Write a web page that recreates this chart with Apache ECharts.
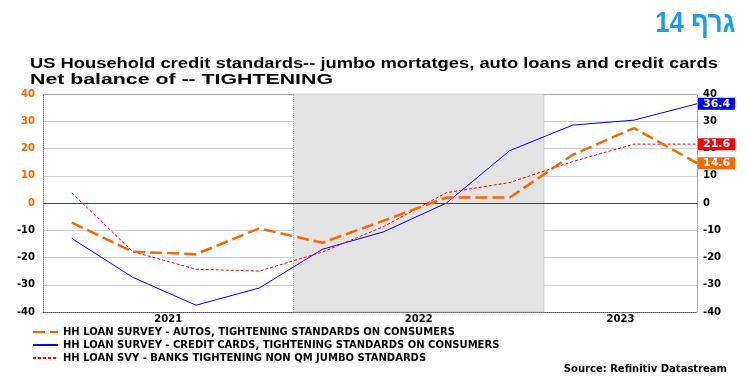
<!DOCTYPE html>
<html><head><meta charset="utf-8">
<script src="https://cdn.jsdelivr.net/npm/echarts@6/dist/echarts.min.js"></script>
<style>html,body{margin:0;padding:0;background:#fff}#c{width:748px;height:388px}</style>
</head><body><div id="c"></div>
<script>
var dates = ['2021-02-12','2021-05-12','2021-08-12','2021-11-12','2022-02-12','2022-05-12','2022-08-12','2022-11-12','2023-02-12','2023-05-12','2023-08-12'];
var autos = [-7.2,-17.9,-18.8,-9.3,-14.6,-6.5,2.0,2.0,17.7,27.5,14.6];
var cards = [-13.0,-27.3,-37.5,-31.2,-17.0,-10.6,0.0,19.2,28.6,30.4,36.4];
var jumbo = [3.7,-17.9,-24.3,-25.0,-18.0,-8.7,3.8,7.5,15.2,21.6,21.6];
var yTicks = [-40,-30,-20,-10,0,10,20,30,40];
var years = ['2021','2022','2023'];
var yearStarts = ['2021-01-01','2022-01-01','2023-01-01'];
var names = ['HH LOAN SURVEY - AUTOS, TIGHTENING STANDARDS ON CONSUMERS','HH LOAN SURVEY - CREDIT CARDS, TIGHTENING STANDARDS ON CONSUMERS','HH LOAN SVY - BANKS TIGHTENING NON QM JUMBO STANDARDS'];
var titleText = '\u202Bגרף 14\u202C';
var title1 = 'US Household credit standards-- jumbo mortatges, auto loans and credit cards';
var title2 = 'Net balance of -- TIGHTENING';
var sourceText = 'Source: Refinitiv Datastream';

function pairs(v){ return dates.map(function(d,i){ return [d, v[i]]; }); }
var WIDE = 'DejaVu Sans, sans-serif';
var ORANGE = '#ff6600';

var chart = echarts.init(document.getElementById('c'));
function endLbl(bg){
  return {show:true, formatter:function(p){return p.value[1].toFixed(1);}, backgroundColor:bg, color:'#fff',
    fontFamily:WIDE, fontWeight:'bold', fontSize:11, padding:[0,5,0,5], distance:1, lineHeight:12};
}
function yearLbl(t){
  return {show:true, position:'bottom', distance:2, formatter:t, color:'#000', fontSize:10, fontWeight:'bold', fontFamily:WIDE};
}
var yMin = yTicks[0], yMax = yTicks[yTicks.length-1];
var option = {
  animation:false,
  graphic:[
    {type:'text', right:13, top:9, scaleX:0.86, style:{text:titleText, fill:'#1a9cf0', font:'bold 30px "Liberation Sans", Arial, sans-serif'}},
    {type:'text', left:30, top:57, scaleX:1.31, style:{text:title1, fill:'#000', font:'bold 14px "Liberation Sans", Arial, sans-serif'}},
    {type:'text', left:30, top:72, scaleX:1.42, style:{text:title2, fill:'#000', font:'bold 15px "Liberation Sans", Arial, sans-serif'}}
  ],
  title:[
    {text:sourceText, right:16, top:359, textStyle:{color:'#000', fontSize:10, fontWeight:'bold', fontFamily:WIDE}}
  ],
  legend:{orient:'vertical', left:32, top:327, padding:0, itemWidth:25, itemHeight:10, itemGap:3,
    itemStyle:{opacity:0},
    textStyle:{color:'#000', fontSize:10, fontWeight:'bold', fontFamily:WIDE}, data:names},
  grid:{left:43, right:51, top:94, bottom:76, containLabel:false},
  xAxis:[
    {type:'time', min:yearStarts[0], max:dates[dates.length-1], position:'bottom',
     axisLine:{onZero:false, lineStyle:{color:'#555', type:'dotted'}}, axisTick:{show:false}, axisLabel:{show:false}, splitLine:{show:false}},
    {type:'time', min:yearStarts[0], max:dates[dates.length-1], position:'top',
     axisLine:{onZero:false, lineStyle:{color:'#999', type:'dotted'}}, axisTick:{show:false}, axisLabel:{show:false}, splitLine:{show:false}}
  ],
  yAxis:[
    {type:'value', min:yMin, max:yMax, interval:10, position:'left',
     axisLine:{show:true, lineStyle:{color:'#777', type:'dotted'}}, axisTick:{show:false},
     axisLabel:{margin:8, fontSize:10, fontWeight:'bold', fontFamily:WIDE, color:function(v){return Number(v)>=0?ORANGE:'#000';}},
     splitLine:{lineStyle:{color:'#d0d0d0', width:1}}},
    {type:'value', min:yMin, max:yMax, interval:10, position:'right',
     axisLine:{show:true, lineStyle:{color:'#999', type:'dotted'}}, axisTick:{show:false},
     axisLabel:{margin:6, fontSize:10, fontWeight:'bold', fontFamily:WIDE, color:'#000'},
     splitLine:{show:false}}
  ],
  series:[
    {name:names[0], type:'line', data:pairs(autos), symbol:'none', z:5,
     lineStyle:{color:ORANGE, width:2.5, type:[12,5]}, itemStyle:{color:ORANGE},
     endLabel:endLbl(ORANGE),
     markArea:{silent:true, data:[
       [{xAxis:yearStarts[0], itemStyle:{color:'rgba(0,0,0,0)'}, label:yearLbl(years[0])},{xAxis:yearStarts[1]}],
       [{xAxis:yearStarts[1], itemStyle:{color:'#e3e3e3', borderColor:'#aaa', borderWidth:1, borderType:'dotted'}, label:yearLbl(years[1])},{xAxis:yearStarts[2]}],
       [{xAxis:yearStarts[2], itemStyle:{color:'rgba(0,0,0,0)'}, label:yearLbl(years[2])},{xAxis:dates[dates.length-1]}]
     ]},
     markLine:{silent:true, symbol:'none', label:{show:false}, lineStyle:{color:'#444', width:1, type:'solid'}, data:[{yAxis:0}]}
    },
    {name:names[1], type:'line', data:pairs(cards), symbol:'none', z:4,
     lineStyle:{color:'#0000ff', width:1}, itemStyle:{color:'#0000ff'}, endLabel:endLbl('#0000ff')},
    {name:names[2], type:'line', data:pairs(jumbo), symbol:'none', z:4,
     lineStyle:{color:'#ff0000', width:1, type:[3,2]}, itemStyle:{color:'#ff0000'}, endLabel:endLbl('#ff0000')}
  ]
};
chart.setOption(option);
</script></body></html>
